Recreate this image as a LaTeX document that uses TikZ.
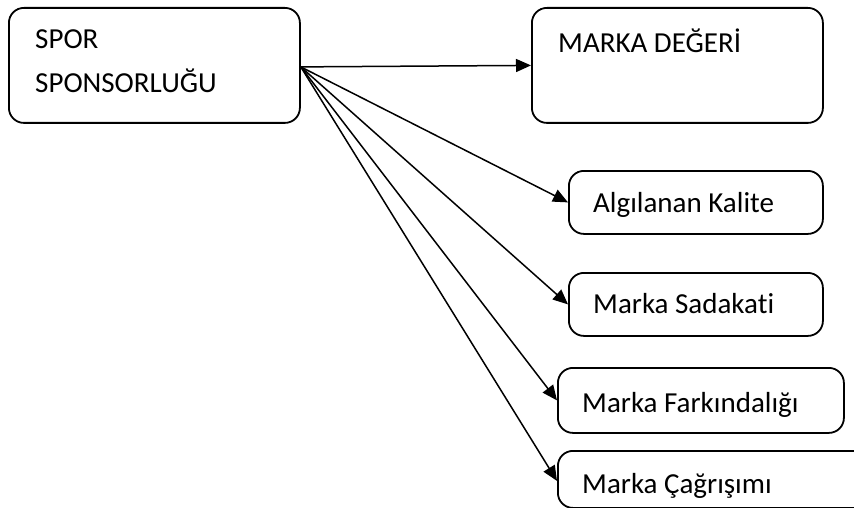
\documentclass[tikz,border=0pt]{standalone}
\usepackage{fontspec}
\setmainfont[Ligatures={NoCommon}]{Carlito}
\usetikzlibrary{arrows.meta}
\begin{document}
\begin{tikzpicture}[x=1pt,y=-1pt,
  box/.style={draw, line width=1.8pt, rounded corners=15pt, inner sep=0pt, anchor=north west},
  lbl/.style={anchor=base west, inner sep=0pt, font=\fontsize{29}{35}\selectfont},
  conn/.style={line width=1.5pt, -{Triangle[length=15pt,width=13pt]}}]
\useasboundingbox (0,0) rectangle (854,508);
\node[box, minimum width=291pt, minimum height=115pt] (b1) at (8,7) {};
\node[box, minimum width=291pt, minimum height=115pt] (b2) at (531,7) {};
\node[box, minimum width=254pt, minimum height=63pt] (b3) at (568,170) {};
\node[box, minimum width=254pt, minimum height=63pt] (b4) at (568,272) {};
\node[box, minimum width=286pt, minimum height=65pt] (b5) at (557,367) {};
\node[box, minimum width=360pt, minimum height=57pt] (b6) at (557,450) {};
\node[lbl] (t1a) at (35,49) {SPOR};
\node[lbl] (t1b) at (35,93) {SPONSORLUĞU};
\node[lbl] (t2) at (558,53) {MARKA DEĞERİ};
\node[lbl] (t3) at (593,212) {Algılanan Kalite};
\node[lbl] (t4) at (593,313) {Marka Sadakati};
\node[lbl] (t5) at (582,412) {Marka Farkındalığı};
\node[lbl] (t6) at (582,493) {Marka Çağrışımı};
\coordinate (s) at ([yshift=-1.5pt]b1.east);
\draw[conn] (s) -- (b2.west);
\draw[conn] (s) -- (b3.west);
\draw[conn] (s) -- (b4.west);
\draw[conn] (s) -- (b5.west);
\draw[conn] (s) -- ([yshift=-1.5pt]b6.west);
\end{tikzpicture}
\end{document}
